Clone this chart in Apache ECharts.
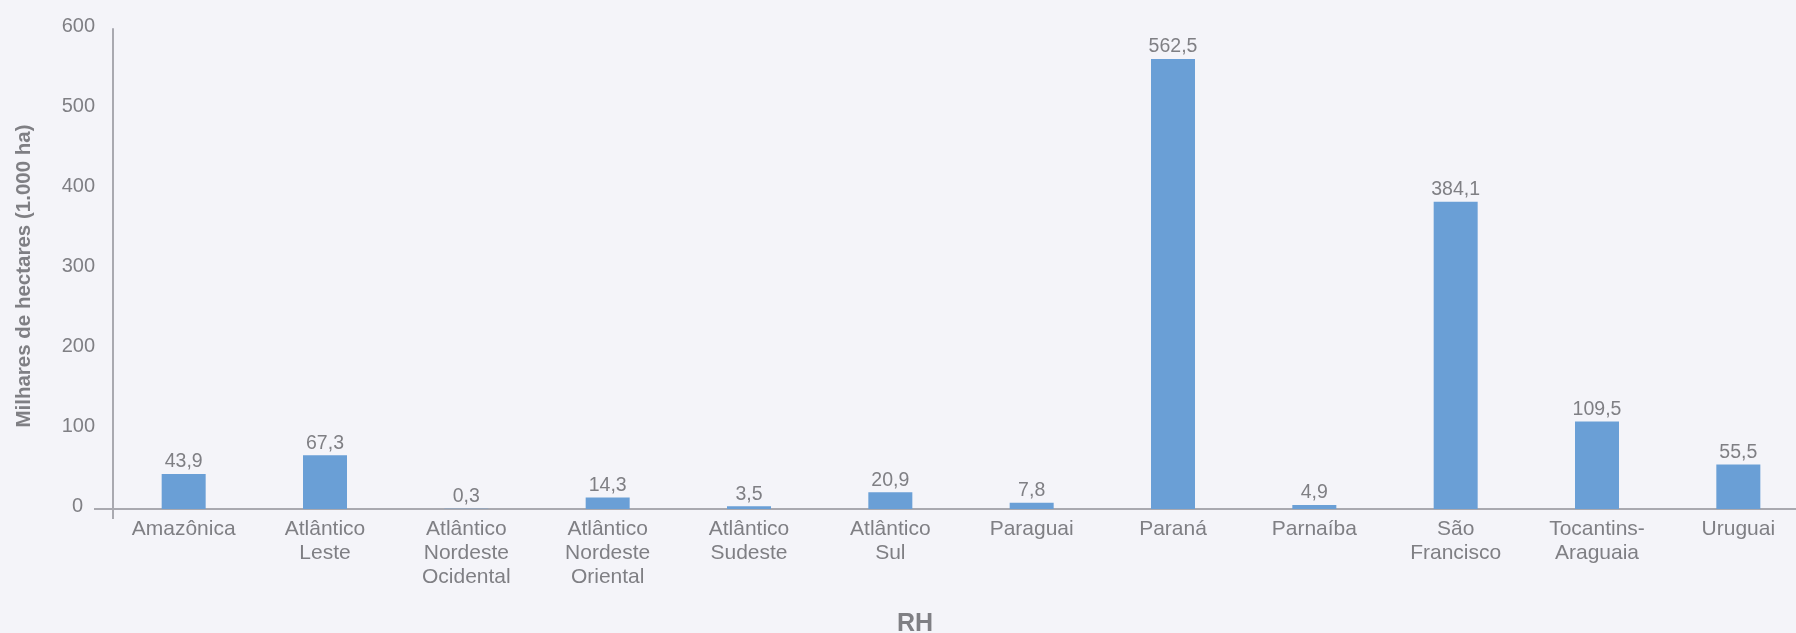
<!DOCTYPE html>
<html>
<head>
<meta charset="utf-8">
<script src="https://cdn.jsdelivr.net/npm/echarts@6/dist/echarts.min.js"></script>
<style>
  html, body { margin: 0; padding: 0; background: #f4f4f9; }
  #chart { width: 1796px; height: 633px; }
</style>
</head>
<body>
<div id="chart"></div>
<script>
// Regiões hidrográficas (RH) e área em milhares de hectares
const categories = [
  'Amazônica', 'Atlântico\nLeste', 'Atlântico\nNordeste\nOcidental', 'Atlântico\nNordeste\nOriental',
  'Atlântico\nSudeste', 'Atlântico\nSul', 'Paraguai', 'Paraná', 'Parnaíba',
  'São\nFrancisco', 'Tocantins-\nAraguaia', 'Uruguai'
];
const values = [43.9, 67.3, 0.3, 14.3, 3.5, 20.9, 7.8, 562.5, 4.9, 384.1, 109.5, 55.5];
const yTicks = [0, 100, 200, 300, 400, 500, 600];

const axisGrey = '#a9a9b0';
const textGrey = '#7f7f84';
const font = '"Liberation Sans", Arial, sans-serif';

const chart = echarts.init(document.getElementById('chart'));
chart.setOption({
  backgroundColor: '#f4f4f9',
  animation: false,
  textStyle: { fontFamily: font },
  grid: { left: 113, right: -13, top: 29, bottom: 124, containLabel: false, outerBoundsMode: 'none' },
  xAxis: {
    type: 'category',
    data: categories,
    name: 'RH',
    nameLocation: 'middle',
    nameGap: 103,
    nameTextStyle: { color: textGrey, fontSize: 25, fontWeight: 'bold', fontFamily: font, padding: [0, 92, 0, 0] },
    axisLine: { show: true, lineStyle: { color: axisGrey, width: 2 } },
    axisTick: { show: true, interval: (i) => i === 0, length: 10, lineStyle: { color: axisGrey, width: 2 } },
    axisLabel: { color: textGrey, fontSize: 21, lineHeight: 24, margin: 8, interval: 0, fontFamily: font }
  },
  yAxis: {
    type: 'value',
    min: yTicks[0],
    max: yTicks[yTicks.length - 1],
    interval: 100,
    name: 'Milhares de hectares (1.000 ha)',
    nameLocation: 'middle',
    nameGap: 78,
    nameTextStyle: { color: textGrey, fontSize: 20.5, fontWeight: 'bold', fontFamily: font, padding: [0, 14, 0, 0] },
    axisLine: { show: true, lineStyle: { color: axisGrey, width: 2 } },
    axisTick: { show: true, customValues: [0], length: 19, lineStyle: { color: axisGrey, width: 2 } },
    axisLabel: {
      color: textGrey, fontSize: 20, margin: 18, fontFamily: font,
      padding: [0, 0, 6, 0],
      formatter: (v) => v === 0 ? '{z|0}' : String(v),
      rich: { z: { color: textGrey, fontSize: 20, fontFamily: font, padding: [0, 12, 0, 0] } }
    },
    splitLine: { show: true, lineStyle: { color: '#e2e2e9', width: 1 } }
  },
  series: [{
    type: 'bar',
    data: values,
    barWidth: 44,
    itemStyle: { color: '#6a9fd6' },
    label: {
      show: true,
      position: 'top',
      distance: 2,
      color: textGrey,
      fontSize: 19.5,
      fontFamily: font,
      formatter: (p) => p.value.toFixed(1).replace('.', ',')
    }
  }]
});
</script>
</body>
</html>
